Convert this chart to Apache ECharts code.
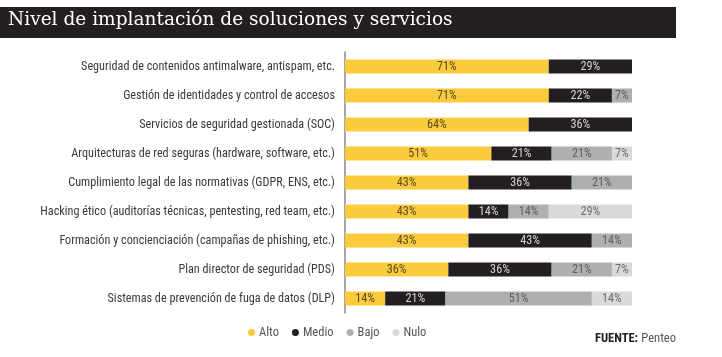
<!DOCTYPE html>
<html>
<head>
<meta charset="utf-8">
<script src="https://cdn.jsdelivr.net/npm/echarts@6/dist/echarts.min.js"></script>
<style>html,body{margin:0;padding:0;background:#fff}#c{width:722px;height:357px}</style>
</head>
<body>
<div id="c"></div>
<script>
const titleText = 'Nivel de implantación de soluciones y servicios';
const categories = [
  'Seguridad de contenidos antimalware, antispam, etc.',
  'Gestión de identidades y control de accesos',
  'Servicios de seguridad gestionada (SOC)',
  'Arquitecturas de red seguras (hardware, software, etc.)',
  'Cumplimiento legal de las normativas (GDPR, ENS, etc.)',
  'Hacking ético (auditorías técnicas, pentesting, red team, etc.)',
  'Formación y concienciación (campañas de phishing, etc.)',
  'Plan director de seguridad (PDS)',
  'Sistemas de prevención de fuga de datos (DLP)'
];
const seriesNames = ['Alto', 'Medio', 'Bajo', 'Nulo'];
const alto  = [71, 71, 64, 51, 43, 43, 43, 36, 14];
const medio = [29, 22, 36, 21, 36, 14, 43, 36, 21];
const bajo  = [0, 7, 0, 21, 21, 14, 14, 21, 51];
const nulo  = [0, 0, 0, 7, 0, 29, 0, 7, 14];
const sourceLabel = 'FUENTE:';
const sourceName = 'Penteo';

const colors = ['#FBCB3E', '#231F20', '#ADB0AE', '#D9D9D9'];
const labelColors = ['#5a4a1e', '#d4d4d4', '#5c5f5e', '#6e6e6e'];

// font detection
const cv = document.createElement('canvas').getContext('2d');
function has(f) {
  cv.font = "100px monospace"; const a = cv.measureText('abcdefghijklmnopqrstuvwxyz ABC 0123').width;
  cv.font = "100px '" + f + "', monospace"; const b = cv.measureText('abcdefghijklmnopqrstuvwxyz ABC 0123').width;
  return a !== b;
}
const condCands = ['Roboto Condensed', 'Liberation Sans Narrow', 'DejaVu Sans Condensed', 'Open Sans Condensed'];
let labelFont = 'Roboto';
for (const f of condCands) { if (has(f)) { labelFont = f; break; } }
function fit(text, fam, target, maxSize, weight) {
  cv.font = (weight || 'normal') + " 100px '" + fam + "'";
  const w = cv.measureText(text).width;
  return Math.min(maxSize, 100 * target / w);
}
const longest = categories.reduce((a, b) => { cv.font = "100px '" + labelFont + "'"; return cv.measureText(a).width > cv.measureText(b).width ? a : b; });
const labelSize = fit(longest, labelFont, 295, 13.5);
const pctSize = Math.min(12.5, labelSize);
const titleFont = 'DejaVu Serif';
const titleSize = fit(titleText, titleFont, 445, 21);

const chart = echarts.init(document.getElementById('c'));
const data = [alto, medio, bajo, nulo];
chart.setOption({
  animation: false,
  color: colors,
  grid: { left: 345, right: 90, top: 52, height: 261 },
  xAxis: { type: 'value', min: 0, max: 100, show: false },
  yAxis: {
    type: 'category', data: categories, inverse: true,
    axisLine: { show: true, lineStyle: { color: '#8a8a8a', width: 1.5 } },
    axisTick: { show: false },
    axisLabel: { margin: 10, color: '#3a3a3a', fontFamily: labelFont, fontSize: labelSize }
  },
  legend: {
    left: 243, top: 321, icon: 'circle', itemWidth: 7, itemHeight: 7, itemGap: 13,
    data: seriesNames,
    textStyle: { color: '#555', fontFamily: labelFont, fontSize: 12.5, padding: [0, 0, 0, -1] }
  },
  graphic: [
    { type: 'rect', left: 0, top: 7, shape: { width: 676, height: 31 }, style: { fill: '#231F20' } },
    { type: 'text', left: 8, top: 11, style: { text: titleText, fill: '#fff', font: 'normal ' + titleSize + "px '" + titleFont + "'" } },
    { type: 'text', left: 595, top: 332, style: {
      text: '{b|' + sourceLabel + '} {n|' + sourceName + '}',
      rich: {
        b: { fontWeight: 'bold', fill: '#222', fontFamily: labelFont, fontSize: 12.5 },
        n: { fill: '#555', fontFamily: labelFont, fontSize: 12.5 }
      }
    } }
  ],
  series: seriesNames.map((n, i) => ({
    name: n, type: 'bar', stack: 'total', barWidth: 14,
    data: data[i],
    label: {
      show: true, position: 'inside', color: labelColors[i], fontFamily: labelFont, fontSize: pctSize,
      formatter: p => p.value ? p.value + '%' : ''
    }
  }))
});
</script>
</body>
</html>
